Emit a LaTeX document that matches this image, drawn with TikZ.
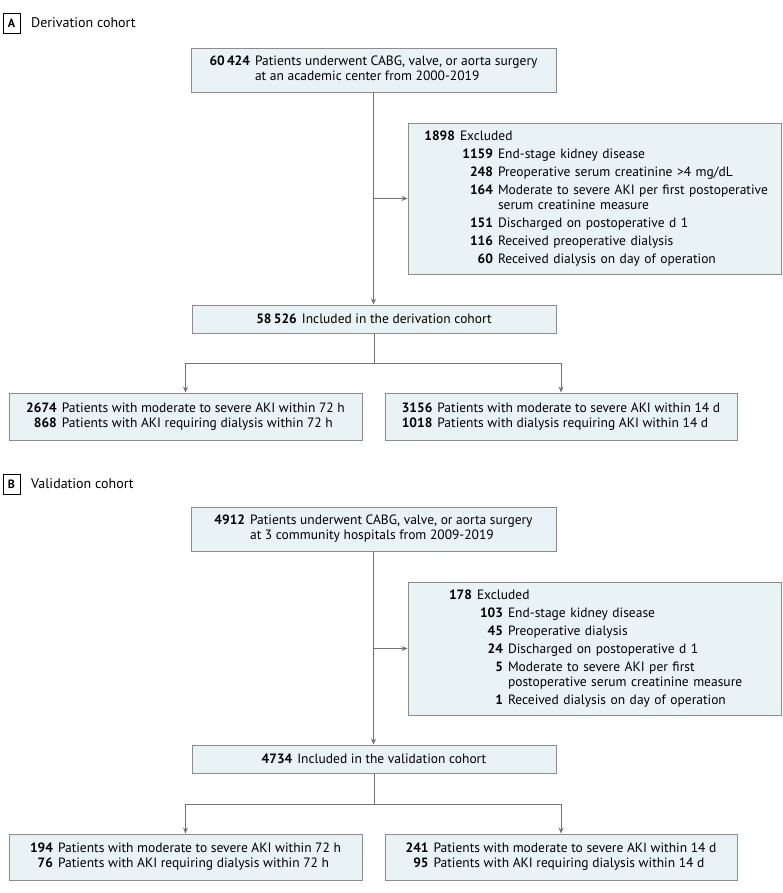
\documentclass[tikz,border=0pt]{standalone}
\usepackage{fontspec}
\setmainfont{PT Sans}
\usetikzlibrary{arrows.meta}

\definecolor{boxfill}{RGB}{233,242,244}
\definecolor{boxline}{RGB}{140,140,140}
\definecolor{arrowgray}{RGB}{115,115,115}

\tikzset{
    flowbox/.style={draw=boxline, fill=boxfill, line width=0.9pt, inner sep=0pt},
    panellabel/.style={draw=black, line width=0.6pt, minimum width=17pt,
        minimum height=20pt, inner sep=0pt, font=\fontsize{12}{14}\selectfont\bfseries},
    paneltitle/.style={anchor=west, inner sep=0pt, font=\fontsize{14}{16}\selectfont},
    flowline/.style={draw=arrowgray, line width=0.9pt},
    flowarrow/.style={flowline, -{Stealth[length=6pt,width=5pt]}}
}

% one line of an exclusion list: number set flush right in a slot, then text
\newcommand{\exitem}[3]{\makebox[#1][r]{\textbf{#2}}\hspace{5pt}#3}

\begin{document}
\begin{tikzpicture}[x=1pt, y=-1pt, font=\fontsize{13.5}{15}\selectfont]
    \useasboundingbox (0,0) rectangle (783,893);

    % A: derivation cohort
    \node[panellabel] (labA) at (11.5,23) {A};
    \node[paneltitle] (titA) at (31,23) {Derivation cohort};

    \node[flowbox, minimum width=365pt, minimum height=44pt] (topA) at (373.5,70)
        {\begin{tabular}{@{}r@{\hspace{5pt}}l@{}}
            \textbf{60\,424} & Patients underwent CABG, valve, or aorta surgery\\
                            & at an academic center from 2000-2019
        \end{tabular}};
    \node[flowbox, minimum width=373pt, minimum height=151pt, text width=373pt,
        align=left] (exclA) at (594.5,198.5)
        {\exitem{47pt}{1898}{Excluded}\\[3pt]
         \exitem{85pt}{1159}{End-stage kidney disease}\\[3pt]
         \exitem{85pt}{248}{Preoperative serum creatinine >4 mg/dL}\\[3pt]
         \exitem{85pt}{164}{Moderate to severe AKI per first postoperative}\\
         \hspace*{90pt}serum creatinine measure\\[3pt]
         \exitem{85pt}{151}{Discharged on postoperative d 1}\\[3pt]
         \exitem{85pt}{116}{Received preoperative dialysis}\\[3pt]
         \exitem{85pt}{60}{Received dialysis on day of operation}};
    \node[flowbox, minimum width=364pt, minimum height=28pt] (inclA) at (374,319)
        {\textbf{58\,526}\hspace{5pt}Included in the derivation cohort};
    \node[flowbox, minimum width=353pt, minimum height=47pt] (botLA) at (185.5,416.5)
        {\begin{tabular}{@{}r@{\hspace{5pt}}l@{}}
            \textbf{2674} & Patients with moderate to severe AKI within 72 h\\
            \textbf{868}  & Patients with AKI requiring dialysis within 72 h
        \end{tabular}};
    \node[flowbox, minimum width=352pt, minimum height=47pt] (botRA) at (561,416.5)
        {\begin{tabular}{@{}r@{\hspace{5pt}}l@{}}
            \textbf{3156} & Patients with moderate to severe AKI within 14 d\\
            \textbf{1018} & Patients with dialysis requiring AKI within 14 d
        \end{tabular}};

    \draw[flowarrow] (topA.south) -- (topA.south |- inclA.north);
    \coordinate (splitA) at (topA.south |- exclA.west);
    \draw[flowarrow] (splitA) -- (exclA.west);
    \draw[flowline] (inclA.south) -- ++(0,30) coordinate (forkA);
    \draw[flowarrow] (forkA) -| (botLA.north);
    \draw[flowarrow] (forkA) -| (botRA.north);

    % B: validation cohort
    \node[panellabel] (labB) at (11.5,484) {B};
    \node[paneltitle] (titB) at (31,484) {Validation cohort};

    \node[flowbox, minimum width=365pt, minimum height=44pt] (topB) at (373.5,529)
        {\begin{tabular}{@{}r@{\hspace{5pt}}l@{}}
            \textbf{4912} & Patients underwent CABG, valve, or aorta surgery\\
                          & at 3 community hospitals from 2009-2019
        \end{tabular}};
    \node[flowbox, minimum width=373pt, minimum height=133pt, text width=373pt,
        align=left] (exclB) at (594.5,648.5)
        {\exitem{64pt}{178}{Excluded}\\[3pt]
         \exitem{95pt}{103}{End-stage kidney disease}\\[3pt]
         \exitem{95pt}{45}{Preoperative dialysis}\\[3pt]
         \exitem{95pt}{24}{Discharged on postoperative d 1}\\[3pt]
         \exitem{95pt}{5}{Moderate to severe AKI per first}\\
         \hspace*{100pt}postoperative serum creatinine measure\\[3pt]
         \exitem{95pt}{1}{Received dialysis on day of operation}};
    \node[flowbox, minimum width=364pt, minimum height=28pt] (inclB) at (374,759)
        {\textbf{4734}\hspace{5pt}Included in the validation cohort};
    \node[flowbox, minimum width=353pt, minimum height=46pt] (botLB) at (185.5,857)
        {\begin{tabular}{@{}r@{\hspace{5pt}}l@{}}
            \textbf{194} & Patients with moderate to severe AKI within 72 h\\
            \textbf{76}  & Patients with AKI requiring dialysis within 72 h
        \end{tabular}};
    \node[flowbox, minimum width=352pt, minimum height=46pt] (botRB) at (561,857)
        {\begin{tabular}{@{}r@{\hspace{5pt}}l@{}}
            \textbf{241} & Patients with moderate to severe AKI within 14 d\\
            \textbf{95}  & Patients with AKI requiring dialysis within 14 d
        \end{tabular}};

    \draw[flowarrow] (topB.south) -- (topB.south |- inclB.north);
    \coordinate (splitB) at (topB.south |- exclB.west);
    \draw[flowarrow] (splitB) -- (exclB.west);
    \draw[flowline] (inclB.south) -- ++(0,31) coordinate (forkB);
    \draw[flowarrow] (forkB) -| (botLB.north);
    \draw[flowarrow] (forkB) -| (botRB.north);
\end{tikzpicture}
\end{document}
